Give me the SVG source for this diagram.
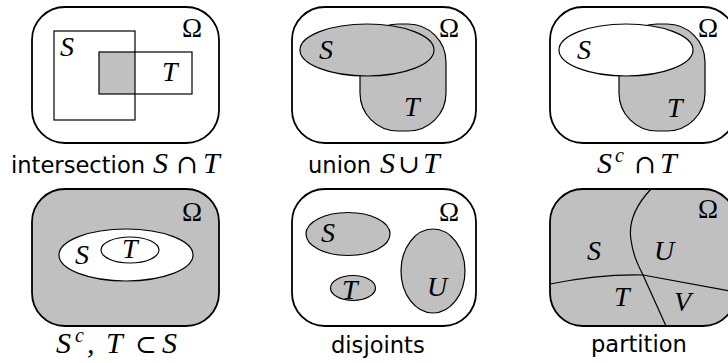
<svg xmlns="http://www.w3.org/2000/svg" width="728" height="363" viewBox="0 0 728 363">
  <style>
    .frame { stroke: #000; stroke-width: 1.8; }
    .set { stroke: #000; stroke-width: 1.2; }
    .shade { fill: #c0c0c0; }
    .blank { fill: #fff; }
    .none { fill: none; }
    .var { font-family: "Liberation Serif", "DejaVu Serif", serif; font-style: italic; font-size: 28px; fill: #000; }
    .omega { font-family: "Liberation Serif", "DejaVu Serif", serif; font-size: 27px; fill: #000; }
    .cap { font-family: "DejaVu Sans", sans-serif; font-size: 22.6px; fill: #000; }
    .cvar { font-family: "Liberation Serif", "DejaVu Serif", serif; font-style: italic; font-size: 30px; fill: #000; }
    .csym { font-family: "DejaVu Serif", serif; font-size: 26px; fill: #000; }
    .sup { font-family: "Liberation Serif", "DejaVu Serif", serif; font-style: italic; font-size: 20px; fill: #000; }
  </style>
  <rect width="728" height="363" fill="#fff"/>

  <!-- intersection -->
  <g id="intersection">
    <rect class="frame blank" x="32" y="7" width="187" height="136" rx="33"/>
    <rect class="shade" x="99" y="52" width="36" height="42"/>
    <rect class="set none" x="54" y="31" width="81" height="89"/>
    <rect class="set none" x="99" y="52" width="93" height="42"/>
    <text class="var" x="60" y="56">S</text>
    <text class="var" x="162" y="81">T</text>
    <text class="omega" x="182" y="37">Ω</text>
    <text class="cap" x="11" y="173">intersection</text>
    <text class="cvar" x="153" y="173">S</text>
    <text class="csym" x="176" y="173">∩</text>
    <text class="cvar" x="203" y="173">T</text>
  </g>

  <!-- union -->
  <g id="union">
    <rect class="frame blank" x="292" y="7" width="184" height="136" rx="33"/>
    <rect class="set shade" x="360" y="24" width="86" height="107" rx="38"/>
    <ellipse class="set shade" cx="367" cy="50" rx="67" ry="26"/>
    <text class="var" x="319" y="59">S</text>
    <text class="var" x="404" y="116">T</text>
    <text class="omega" x="439" y="37">Ω</text>
    <text class="cap" x="308" y="173">union</text>
    <text class="cvar" x="380" y="173">S</text>
    <text class="csym" x="398" y="173">∪</text>
    <text class="cvar" x="423" y="173">T</text>
  </g>

  <!-- complement of S intersected with T -->
  <g id="complement-intersection">
    <rect class="frame blank" x="550" y="7" width="186" height="136" rx="33"/>
    <rect class="set shade" x="619" y="24" width="86" height="107" rx="38"/>
    <ellipse class="set blank" cx="626" cy="50" rx="67" ry="26"/>
    <text class="var" x="577" y="59">S</text>
    <text class="var" x="667" y="117">T</text>
    <text class="omega" x="698" y="37">Ω</text>
    <text class="cvar" x="597" y="173">S</text>
    <text class="sup" x="615" y="162">c</text>
    <text class="csym" x="634" y="173">∩</text>
    <text class="cvar" x="660" y="173">T</text>
  </g>

  <!-- complement, T subset of S -->
  <g id="subset">
    <rect class="frame shade" x="32" y="189" width="187" height="137" rx="33"/>
    <ellipse class="set blank" cx="126" cy="255" rx="67" ry="26"/>
    <ellipse class="set blank" cx="130" cy="250" rx="29" ry="13"/>
    <text class="var" x="75" y="264">S</text>
    <text class="var" x="122" y="258">T</text>
    <text class="omega" x="182" y="221">Ω</text>
    <text class="cvar" x="56" y="353">S</text>
    <text class="sup" x="75" y="342">c</text>
    <text class="cvar" x="87" y="353">,</text>
    <text class="cvar" x="106" y="353">T</text>
    <text class="csym" x="135" y="353">⊂</text>
    <text class="cvar" x="162" y="353">S</text>
  </g>

  <!-- disjoint sets -->
  <g id="disjoints">
    <rect class="frame blank" x="292" y="189" width="184" height="137" rx="33"/>
    <ellipse class="set shade" cx="348" cy="234" rx="42" ry="21.5"/>
    <ellipse class="set shade" cx="353" cy="288" rx="22.5" ry="12.5"/>
    <ellipse class="set shade" cx="433" cy="271" rx="32" ry="42"/>
    <text class="var" x="321" y="242">S</text>
    <text class="var" x="342" y="299">T</text>
    <text class="var" x="427" y="296">U</text>
    <text class="omega" x="439" y="221">Ω</text>
    <text class="cap" x="331" y="353">disjoints</text>
  </g>

  <!-- partition -->
  <g id="partition">
    <rect class="frame shade" x="550" y="189" width="186" height="137" rx="33"/>
    <path class="set none" d="M651,189 C636,205 628,222 631,240 C633,255 638,265 643,275 L666,326"/>
    <path class="set none" d="M550,284 Q600,274 643,275 L736,292"/>
    <text class="var" x="587" y="260">S</text>
    <text class="var" x="654" y="260">U</text>
    <text class="var" x="614" y="306">T</text>
    <text class="var" x="674" y="311">V</text>
    <text class="omega" x="698" y="218">Ω</text>
    <text class="cap" x="591" y="352">partition</text>
  </g>
</svg>
